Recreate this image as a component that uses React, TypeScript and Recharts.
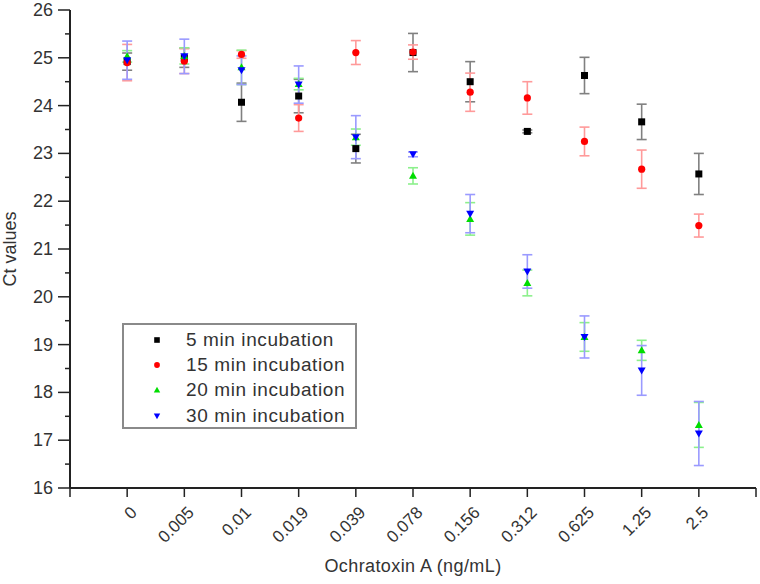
import React from "react";
import {
  ComposedChart,
  Scatter,
  ErrorBar,
  XAxis,
  YAxis,
  Legend,
} from "recharts";

const categories = ["0", "0.005", "0.01", "0.019", "0.039", "0.078", "0.156", "0.312", "0.625", "1.25", "2.5"];

const min5 = [24.92, 25.0, 24.07, 24.2, 23.1, 25.11, 24.5, 23.46, 24.63, 23.66, 22.57];
const min5Err = [0.18, 0.2, 0.4, 0.35, 0.3, 0.4, 0.42, 0.03, 0.38, 0.37, 0.43];

const min15 = [24.9, 24.93, 25.07, 23.74, 25.11, 25.12, 24.28, 24.16, 23.25, 22.67, 21.49];
const min15Err = [0.38, 0.26, 0.08, 0.28, 0.25, 0.15, 0.4, 0.34, 0.3, 0.4, 0.24];

const min20 = [25.03, 25.04, 24.8, 24.45, 23.34, 22.53, 21.63, 20.29, 19.16, 18.88, 17.32];
const min20Err = [0.12, 0.17, 0.36, 0.12, 0.17, 0.17, 0.34, 0.27, 0.3, 0.21, 0.47];

const min30 = [24.95, 25.03, 24.74, 24.44, 23.34, 22.98, 21.74, 20.53, 19.16, 18.46, 17.14];
const min30Err = [0.4, 0.36, 0.3, 0.39, 0.45, 0.05, 0.4, 0.35, 0.44, 0.52, 0.67];

const seriesNames = ["5 min incubation", "15 min incubation", "20 min incubation", "30 min incubation"];

const xTicks = [-1, 0, 1, 2, 3, 4, 5, 6, 7, 8, 9, 10, 11];
const yTicks = [16, 16.5, 17, 17.5, 18, 18.5, 19, 19.5, 20, 20.5, 21, 21.5, 22, 22.5, 23, 23.5, 24, 24.5, 25, 25.5, 26];

const rows = (ys: number[], errs: number[]) => ys.map((y, i) => ({ x: i, y, err: errs[i] }));

const FONT = "Arial, 'Liberation Sans', sans-serif";
const TEXT = "#333";

const Square = ({ cx, cy, fill, s = 1 }: any) => (
  <rect x={cx - 3.5 * s} y={cy - 3.5 * s} width={7 * s} height={7 * s} fill={fill} />
);
const Dot = ({ cx, cy, fill, s = 1 }: any) => <circle cx={cx} cy={cy} r={3.6 * s} fill={fill} />;
const TriUp = ({ cx, cy, fill, s = 1 }: any) => (
  <polygon points={`${cx},${cy - 4 * s} ${cx - 4 * s},${cy + 3 * s} ${cx + 4 * s},${cy + 3 * s}`} fill={fill} />
);
const TriDown = ({ cx, cy, fill, s = 1 }: any) => (
  <polygon points={`${cx},${cy + 4 * s} ${cx - 4 * s},${cy - 3 * s} ${cx + 4 * s},${cy - 3 * s}`} fill={fill} />
);

const series = [
  { name: seriesNames[0], data: rows(min5, min5Err), fill: "#000", err: "#808080", shape: Square },
  { name: seriesNames[1], data: rows(min15, min15Err), fill: "#ff0000", err: "#ff9a9a", shape: Dot },
  { name: seriesNames[2], data: rows(min20, min20Err), fill: "#00dd00", err: "#8cf08c", shape: TriUp },
  { name: seriesNames[3], data: rows(min30, min30Err), fill: "#0000ff", err: "#9a9aff", shape: TriDown },
];

const XTick = ({ x, y, payload }: any) => {
  const label = categories[payload.value] ?? "";
  const ax = x + 7.5;
  const ay = y + 11.5;
  return (
    <g>
      <text
        x={ax}
        y={ay}
        transform={`rotate(-45, ${ax}, ${ay})`}
        textAnchor="end"
        dominantBaseline="middle"
        fontSize={17}
        fontFamily={FONT}
        fill={TEXT}
      >
        {label}
      </text>
    </g>
  );
};

const YTick = ({ x, y, payload }: any) => {
  const major = Number.isInteger(payload.value);
  return (
    <g>
      <line x1={major ? x + 2 : x + 9} x2={x + 14} y1={y} y2={y} stroke="#222" strokeWidth={1.5} />
      {major && (
        <text x={x - 3} y={y} textAnchor="end" dominantBaseline="central" fontSize={18} fontFamily={FONT} fill={TEXT}>
          {payload.value}
        </text>
      )}
    </g>
  );
};

const LegendBox = () => (
  <div
    style={{
      width: 235,
      height: 106,
      border: "2px solid #8a8a8a",
      background: "#fff",
      boxSizing: "border-box",
      paddingTop: 2,
      fontFamily: FONT,
      fontSize: 19,
      letterSpacing: 0.6,
      color: TEXT,
    }}
  >
    {series.map((s) => {
      const Shape = s.shape;
      return (
        <div key={s.name} style={{ display: "flex", alignItems: "center", height: 25.3 }}>
          <svg width={62} height={14} style={{ flexShrink: 0 }}>
            <Shape cx={33} cy={7} fill={s.fill} s={0.8} />
          </svg>
          <span style={{ whiteSpace: "nowrap" }}>{s.name}</span>
        </div>
      );
    })}
  </div>
);

export default function App() {
  return (
    <div style={{ position: "absolute", left: 0, top: 0, width: 760, height: 584, background: "#fff" }}>
      <ComposedChart width={760} height={584} margin={{ top: 10, right: 4, left: 0, bottom: 26 }}>
        <XAxis
          type="number"
          dataKey="x"
          domain={[-1, 11]}
          ticks={xTicks}
          interval={0}
          allowDataOverflow
          axisLine={{ stroke: "#222", strokeWidth: 2 }}
          tickLine={{ stroke: "#222", strokeWidth: 1.5 }}
          tickSize={9}
          tick={<XTick />}
          height={70}
          label={{
            value: "Ochratoxin A (ng/mL)",
            position: "insideBottom",
            offset: -14,
            fontSize: 18,
            fontFamily: FONT,
            fill: TEXT,
            style: { letterSpacing: 0.4 },
          }}
        />
        <YAxis
          type="number"
          dataKey="y"
          domain={[16, 26]}
          ticks={yTicks}
          interval={0}
          width={70}
          axisLine={{ stroke: "#222", strokeWidth: 2 }}
          tickLine={false}
          tickSize={10}
          tickMargin={4}
          tick={<YTick />}
          label={{
            value: "Ct values",
            angle: -90,
            position: "insideLeft",
            offset: 10,
            fontSize: 18,
            fontFamily: FONT,
            fill: TEXT,
            style: { textAnchor: "middle" },
          }}
        />
        <Legend
          layout="horizontal"
          align="center"
          verticalAlign="middle"
          wrapperStyle={{ left: 122, top: 323, width: 235 }}
          content={<LegendBox />}
        />
        {series.map((s) => (
          <Scatter
            key={s.name}
            name={s.name}
            data={s.data}
            fill={s.fill}
            shape={s.shape}
            isAnimationActive={false}
          >
            <ErrorBar dataKey="err" direction="y" width={5} stroke={s.err} strokeWidth={1.6} isAnimationActive={false} />
          </Scatter>
        ))}
      </ComposedChart>
    </div>
  );
}
